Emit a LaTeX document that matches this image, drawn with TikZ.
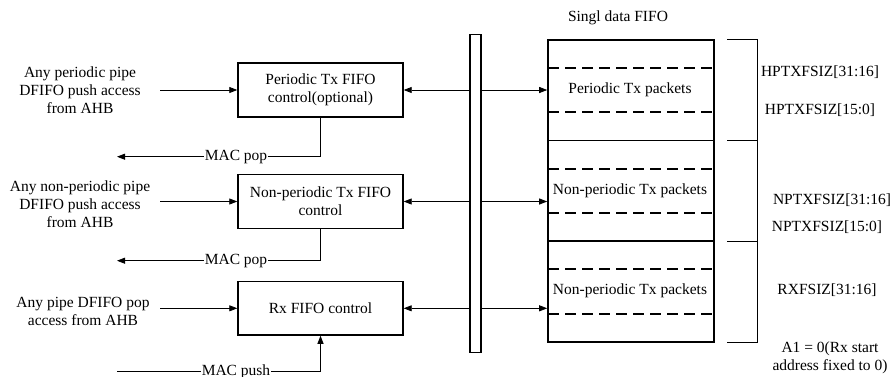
\documentclass[tikz,border=0pt]{standalone}
\usepackage{fontspec}
\setmainfont{Liberation Serif}
\usetikzlibrary{arrows.meta}
\begin{document}
\begin{tikzpicture}[x=1pt,y=-1pt,
  every node/.style={font=\fontsize{15.5}{18}\selectfont},
  ctrl/.style={draw,line width=1.4pt,minimum width=165pt,minimum height=54pt,inner sep=0pt,align=center},
  arr/.style={-{Triangle[length=8pt,width=6pt]},line width=0.8pt},
  lbl/.style={align=center,inner sep=0pt},
  onl/.style={fill=white,inner sep=1pt},
  dsh/.style={line width=1.8pt,dash pattern=on 10.5pt off 6.5pt},
  sep/.style={line width=1.5pt},
  brk/.style={line width=0.7pt}
]
\useasboundingbox (0,0) rectangle (892,376);

% control boxes
\node[ctrl] (b1) at (320.5,90) {Periodic Tx FIFO\\control(optional)};
\node[ctrl] (b2) at (320.5,201.5) {Non-periodic Tx FIFO\\control};
\node[ctrl,minimum height=53.5pt] (b3) at (320.5,308.3) {Rx FIFO control};

% bus
\node[draw,line width=1.2pt,minimum width=11pt,minimum height=318pt,inner sep=0pt] (bus) at (475.5,193.5) {};

% FIFO
\node[draw,line width=1.6pt,minimum width=166pt,minimum height=302pt,inner sep=0pt] (fifo) at (631,191) {};
\node[lbl] (title) at (618,18) {Singl data FIFO};
\draw[sep] (548,140.7) -- (714,140.7);
\draw[sep] (548,241) -- (714,241);
\draw[dsh] (548,67.7) -- (714,67.7);
\draw[dsh] (548,112.3) -- (714,112.3);
\draw[dsh] (548,169.3) -- (714,169.3);
\draw[dsh] (548,213.3) -- (714,213.3);
\draw[dsh] (548,269.3) -- (714,269.3);
\draw[dsh] (548,314) -- (714,314);
\node[lbl] (f1) at (630,90) {Periodic Tx packets};
\node[lbl] (f2) at (630,191) {Non-periodic Tx packets};
\node[lbl] (f3) at (630,291) {Non-periodic Tx packets};

% arrows box <-> bus <-> fifo
\draw[arr] (bus.west |- b1.east) -- (b1.east);
\draw[arr] (bus.east |- b1.east) -- (fifo.west |- b1.east);
\draw[arr] (bus.west |- b2.east) -- (b2.east);
\draw[arr] (bus.east |- b2.east) -- (fifo.west |- b2.east);
\draw[arr] (bus.west |- b3.east) -- (b3.east);
\draw[arr] (bus.east |- b3.east) -- (fifo.west |- b3.east);

% inputs
\node[lbl] (t1) at (80,90) {Any periodic pipe\\DFIFO push access\\from AHB};
\node[lbl] (t2) at (80,204) {Any non-periodic pipe\\DFIFO push access\\from AHB};
\node[lbl] (t3) at (83,311) {Any pipe DFIFO pop\\access from AHB};
\coordinate (i1) at (160,90);
\coordinate (i2) at (160,201.5);
\coordinate (i3) at (160,308.3);
\draw[arr] (i1) -- (b1.west);
\draw[arr] (i2) -- (b2.west);
\draw[arr] (i3) -- (b3.west);

% MAC pop / push
\coordinate (p1) at (117,156.7);
\coordinate (p2) at (117,260.7);
\coordinate (q3) at (117,371);
\draw[arr] (b1.south) -- (b1.south |- p1) -- (p1);
\draw[arr] (b2.south) -- (b2.south |- p2) -- (p2);
\draw[arr] (q3) -- (b3.south |- q3) -- (b3.south);
\node[onl] (m1) at (236,156.7) {MAC pop};
\node[onl] (m2) at (236,260.7) {MAC pop};
\node[onl] (m3) at (236,371.5) {MAC push};

% bracket
\draw[brk] (727,39.3) -- (757.3,39.3) -- (757.3,342.7) -- (727,342.7);
\draw[brk] (727,140.7) -- (757.3,140.7);
\draw[brk] (727,241.7) -- (757.3,241.7);

% right labels
\node[lbl] (r1) at (820,71.7) {HPTXFSIZ[31:16]};
\node[lbl] (r2) at (820,110) {HPTXFSIZ[15:0]};
\node[lbl] (r3) at (832,200) {NPTXFSIZ[31:16]};
\node[lbl] (r4) at (827,227) {NPTXFSIZ[15:0]};
\node[lbl] (r5) at (827,290) {RXFSIZ[31:16]};
\node[lbl] (r6) at (830,357.5) {A1 = 0(Rx start\\address fixed to 0)};
\end{tikzpicture}
\end{document}
